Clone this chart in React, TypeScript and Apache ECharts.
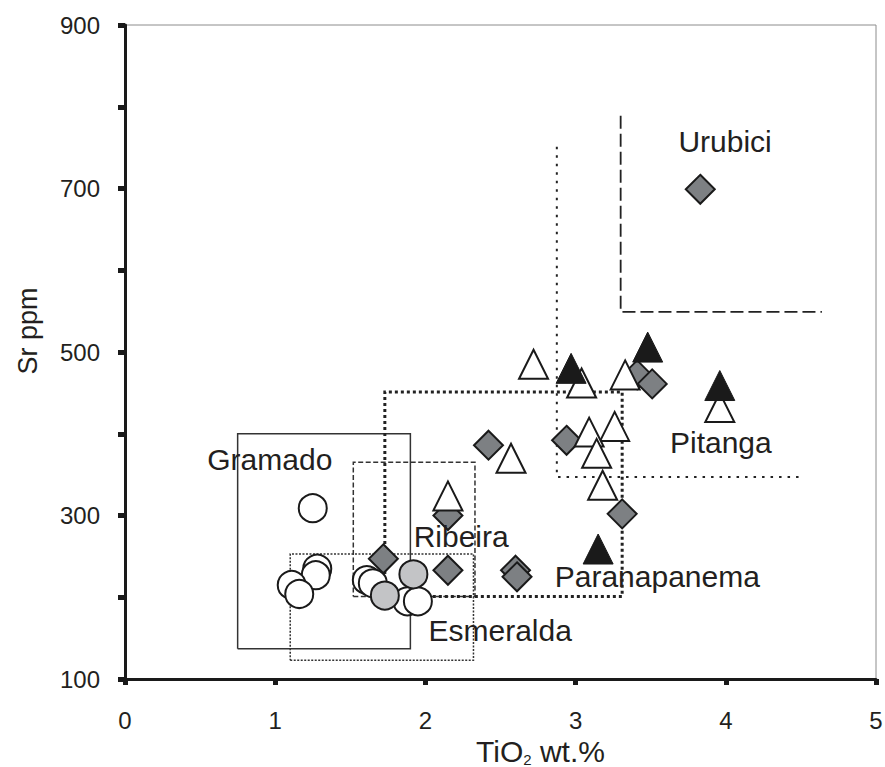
import React, { useEffect, useRef } from "react";
import * as echarts from "echarts";

const FONT = '"Liberation Sans", Arial, Helvetica, sans-serif';
const INK = "#231f20";
const EDGE = "#1a1a1a";

// axis ticks
const xTicks = [0, 1, 2, 3, 4, 5];
const yTickLabels = [100, 300, 500, 700, 900];

// samples: [TiO2 wt.%, Sr ppm]
const whiteCircles = [
  [1.25, 309], [1.28, 235], [1.27, 227], [1.11, 215], [1.16, 204],
  [1.61, 221], [1.65, 217], [1.88, 195], [1.95, 195],
];
const grayCircles = [[1.92, 228], [1.73, 202]];
const grayDiamonds = [
  [3.41, 472], [3.83, 699], [2.42, 386], [1.72, 247], [2.15, 233], [2.15, 300],
  [2.6, 233], [2.61, 225], [2.94, 392], [3.31, 302], [3.51, 461],
];
const whiteTriangles = [
  [2.72, 485], [2.57, 370], [3.04, 462], [3.33, 472], [3.26, 409],
  [3.09, 402], [3.14, 376], [3.18, 337], [2.15, 324], [3.96, 432],
];
const blackTriangles = [[3.48, 506], [2.97, 480], [3.96, 459], [3.15, 259]];

// field outlines
const gramadoBox = [[0.75, 137], [1.9, 137], [1.9, 400], [0.75, 400], [0.75, 137]];
const ribeiraBox = [[1.52, 201], [2.33, 201], [2.33, 365], [1.52, 365], [1.52, 201]];
const esmeraldaBox = [[1.1, 123], [2.32, 123], [2.32, 253], [1.1, 253], [1.1, 123]];
const paranapanemaBox = [[1.73, 201], [3.31, 201], [3.31, 451], [1.73, 451], [1.73, 201]];
const pitangaLine = [[2.875, 751], [2.875, 347], [4.51, 347]];
const urubiciLine = [[3.3, 789], [3.3, 549], [4.64, 549]];

// field names
const fieldNames = ["Urubici", "Gramado", "Ribeira", "Esmeralda", "Paranapanema", "Pitanga"];
const fieldNameX = [3.995, 0.964, 2.238, 2.498, 3.544, 3.967];
const fieldNameY = [758, 369, 274, 159, 225, 389];

function outline(data: number[][], type: any, width: number, color: string) {
  return {
    type: "line",
    data,
    symbol: "none",
    silent: true,
    z: 1,
    lineStyle: { type, width, color, cap: "butt", join: "miter", opacity: 1 },
  };
}

function markers(data: number[][], symbol: string, size: number, fill: string, bw: number, bc: string) {
  return {
    type: "scatter",
    data,
    symbol,
    symbolSize: size,
    silent: true,
    z: 3,
    itemStyle: { color: fill, borderColor: bc, borderWidth: bw, opacity: 1 },
  };
}

export default function App() {
  const ref = useRef<HTMLDivElement>(null);
  useEffect(() => {
    if (!ref.current) return;
    const chart = echarts.init(ref.current, undefined, { renderer: "svg" });
    const option: any = {
      animation: false,
      backgroundColor: "#ffffff",
      grid: {
        left: 125,
        right: 9,
        top: 25,
        bottom: 88,
        show: true,
        containLabel: false,
        outerBoundsMode: "none",
        borderColor: "#8c8c8c",
        borderWidth: 1,
        backgroundColor: "transparent",
      },
      xAxis: {
        type: "value",
        min: xTicks[0],
        max: xTicks[xTicks.length - 1],
        interval: 1,
        axisLine: { show: true, onZero: false, lineStyle: { color: EDGE, width: 3 } },
        axisTick: { show: true, length: 6, lineStyle: { color: EDGE, width: 5 } },
        axisLabel: { fontSize: 24, color: INK, fontFamily: FONT, margin: 29 },
        splitLine: { show: false },
        name: "TiO{sub|2} wt.%",
        nameLocation: "middle",
        nameGap: 56,
        nameTextStyle: {
          fontSize: 30,
          lineHeight: 30,
          color: INK,
          fontFamily: FONT,
          padding: [0, 0, 0, 80],
          rich: {
            sub: { fontSize: 15, fontFamily: FONT, color: INK, verticalAlign: "bottom", lineHeight: 12 },
          },
        },
      },
      yAxis: {
        type: "value",
        min: 100,
        max: 900,
        interval: 100,
        axisLine: { show: true, onZero: false, lineStyle: { color: EDGE, width: 3 } },
        axisTick: { show: true, length: 7, lineStyle: { color: EDGE, width: 5 } },
        axisLabel: {
          fontSize: 24,
          color: INK,
          fontFamily: FONT,
          margin: 25,
          formatter: (v: number) => (yTickLabels.includes(v) ? String(v) : ""),
        },
        splitLine: { show: false },
        name: "Sr ppm",
        nameLocation: "middle",
        nameRotate: 90,
        nameGap: 84,
        nameTextStyle: { fontSize: 27, color: INK, fontFamily: FONT, padding: [0, 0, 0, 42] },
      },
      series: [
        outline(gramadoBox, "solid", 1.5, "#333333"),
        outline(ribeiraBox, [5, 2.5], 1.5, "#333333"),
        outline(esmeraldaBox, [2, 1.5], 1.5, "#333333"),
        outline(paranapanemaBox, [3, 3], 3, "#222222"),
        outline(pitangaLine, [2.5, 6], 2, "#222222"),
        outline(urubiciLine, [13, 5], 1.8, "#222222"),
        markers(whiteCircles, "circle", 28, "#ffffff", 2, EDGE),
        markers(grayDiamonds, "diamond", 29, "#7d8083", 2, EDGE),
        markers(grayCircles, "circle", 28, "#c3c4c6", 2, EDGE),
        markers(whiteTriangles, "triangle", 29, "#ffffff", 2, EDGE),
        markers(blackTriangles, "triangle", 30, EDGE, 1, EDGE),
        {
          type: "scatter",
          silent: true,
          z: 5,
          symbolSize: 1,
          itemStyle: { color: "rgba(0,0,0,0)", opacity: 1 },
          data: fieldNames.map((n, i) => ({ name: n, value: [fieldNameX[i], fieldNameY[i]] })),
          label: {
            show: true,
            position: "inside",
            formatter: (p: any) => p.name,
            fontSize: 30,
            color: INK,
            opacity: 1,
            textBorderWidth: 0,
            fontFamily: FONT,
          },
        },
      ],
    };
    chart.setOption(option);
    return () => chart.dispose();
  }, []);
  return (
    <div
      ref={ref}
      style={{ position: "fixed", left: 0, top: 0, width: 885, height: 767, background: "#fff" }}
    />
  );
}
